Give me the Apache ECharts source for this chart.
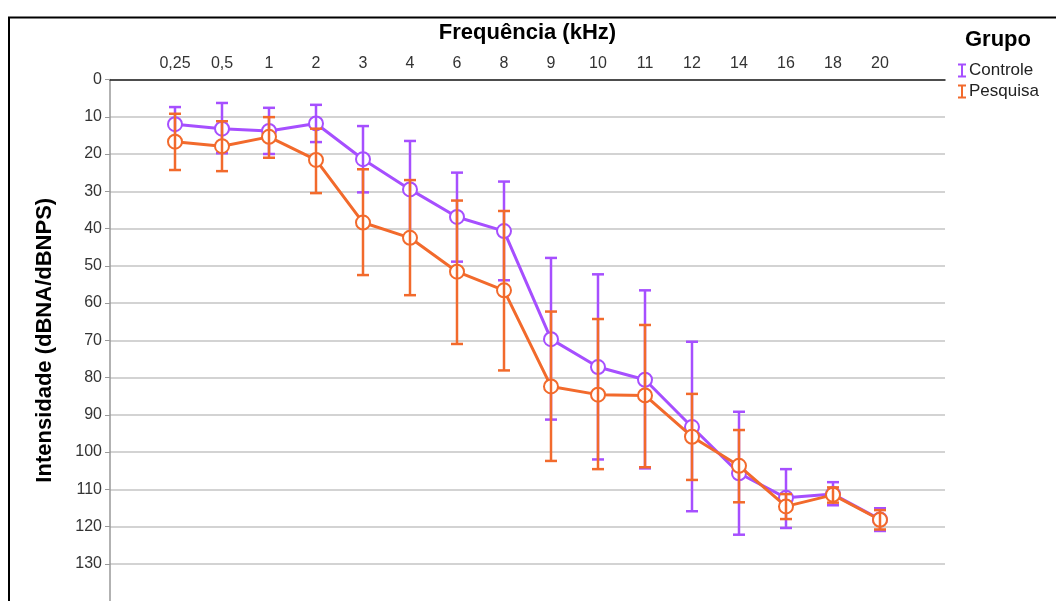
<!DOCTYPE html>
<html>
<head>
<meta charset="utf-8">
<script src="https://cdn.jsdelivr.net/npm/echarts@6/dist/echarts.min.js"></script>
<style>html,body{margin:0;padding:0;background:#fff;}#c{width:1056px;height:601px;}</style>
</head>
<body>
<div id="c"></div>
<script>
const freqLabels = ['0,25','0,5','1','2','3','4','6','8','9','10','11','12','14','16','18','20'];
const yTicks = [0,10,20,30,40,50,60,70,80,90,100,110,120,130];
const controleMean = [12.0, 13.2, 13.8, 11.8, 21.4, 29.5, 36.9, 40.7, 69.7, 77.2, 80.6, 93.3, 105.7, 112.3, 111.3, 118.1];
const controleLow  = [7.4, 6.3, 7.6, 6.8, 12.5, 16.5, 25.0, 27.4, 47.9, 52.3, 56.6, 70.4, 89.2, 104.6, 108.1, 115.1];
const controleHigh = [16.6, 19.8, 20.0, 16.8, 30.3, 42.5, 48.9, 53.9, 91.3, 102.0, 104.4, 115.9, 122.2, 120.4, 114.3, 121.2];
const pesquisaMean = [16.7, 17.9, 15.4, 21.6, 38.4, 42.5, 51.6, 56.6, 82.4, 84.6, 84.8, 95.9, 103.7, 114.6, 111.5, 118.2];
const pesquisaLow  = [9.2, 11.2, 10.1, 13.2, 24.1, 27.0, 32.5, 35.3, 62.3, 64.3, 65.9, 84.4, 94.1, 111.3, 109.5, 115.6];
const pesquisaHigh = [24.3, 24.6, 21.0, 30.5, 52.5, 57.9, 71.0, 78.1, 102.4, 104.6, 104.1, 107.5, 113.5, 118.0, 113.6, 120.8];

const PURPLE = '#a64fff';
const ORANGE = '#f26a2c';
const FONT = '"Liberation Sans", Arial, sans-serif';

function lineData(mean){ return mean.map((v,i)=>[i,v]); }
function errData(low, high){ return low.map((v,i)=>[i,v,high[i]]); }

function errRender(color){
  return function(params, api){
    const x = api.value(0);
    const p1 = api.coord([x, api.value(1)]);
    const p2 = api.coord([x, api.value(2)]);
    const hw = 6;
    const st = {stroke: color, lineWidth: 2.5, fill: null};
    return {type:'group', children:[
      {type:'line', shape:{x1:p1[0], y1:p1[1], x2:p2[0], y2:p2[1]}, style:st},
      {type:'line', shape:{x1:p1[0]-hw, y1:p1[1], x2:p1[0]+hw, y2:p1[1]}, style:st},
      {type:'line', shape:{x1:p2[0]-hw, y1:p2[1], x2:p2[0]+hw, y2:p2[1]}, style:st}
    ]};
  };
}

const chart = echarts.init(document.getElementById('c'), null, {renderer:'canvas'});
const ibeam = 'path://M0,0H8V2H5V12H8V14H0V12H3V2H0Z';
chart.setOption({
  animation: false,
  backgroundColor: '#fff',
  textStyle: {fontFamily: FONT},
  grid: {left: 110, top: 79.5, width: 835, height: 523, containLabel: false},
  xAxis: {
    type: 'value', position: 'top', min: -1.383, max: 16.383,
    name: 'Frequência (kHz)', nameLocation: 'middle', nameGap: 36,
    nameTextStyle: {fontFamily: FONT, fontSize: 22, fontWeight: 'bold', color: '#000'},
    axisLine: {show: true, onZero: false, lineStyle: {color: '#222', width: 1.5}},
    axisTick: {show: false},
    splitLine: {show: false},
    axisLabel: {
      customValues: freqLabels.map((_,i)=>i),
      formatter: v => freqLabels[Math.round(v)],
      fontSize: 16, color: '#333', margin: 8, fontFamily: FONT
    }
  },
  yAxis: {
    type: 'value', inverse: true, min: 0, max: 140, interval: 10,
    name: 'Intensidade (dBNA/dBNPS)', nameLocation: 'middle', nameGap: 54,
    nameTextStyle: {fontFamily: FONT, fontSize: 22, fontWeight: 'bold', color: '#000'},
    axisLine: {show: true, onZero: false, lineStyle: {color: '#999', width: 1.5}},
    axisTick: {show: true, length: 5, customValues: yTicks, lineStyle: {color: '#999', width: 1}},
    splitLine: {show: true, lineStyle: {color: '#c4c4c4', width: 1.5}},
    axisLabel: {
      customValues: yTicks,
      formatter: v => String(v),
      fontSize: 16, color: '#333', margin: 8, fontFamily: FONT
    }
  },
  legend: {
    orient: 'vertical', left: 953, top: 57, itemGap: 4,
    itemWidth: 8, itemHeight: 14,
    textStyle: {fontSize: 17, color: '#222', fontFamily: FONT, padding: [0,0,0,-2]},
    data: [
      {name: 'Controle', icon: ibeam, itemStyle: {color: PURPLE}},
      {name: 'Pesquisa', icon: ibeam, itemStyle: {color: ORANGE}}
    ]
  },
  graphic: [
    {type: 'polyline', shape: {points: [[9, 610], [9, 17.5], [1060, 17.5]]}, style: {stroke: '#000', lineWidth: 2, fill: null}, z: 100},
    {type: 'text', left: 965, top: 29, style: {text: 'Grupo', font: 'bold 22px ' + FONT, fill: '#000'}}
  ],
  series: [
    {name: 'Controle', type: 'line', data: lineData(controleMean), z: 2,
     symbol: 'emptyCircle', symbolSize: 14, lineStyle: {color: PURPLE, width: 3},
     itemStyle: {color: PURPLE, borderWidth: 2.5}, showAllSymbol: true},
    {name: 'Controle err', type: 'custom', data: errData(controleLow, controleHigh), z: 3,
     renderItem: errRender(PURPLE), encode: {x: 0, y: [1,2]}},
    {name: 'Pesquisa', type: 'line', data: lineData(pesquisaMean), z: 4,
     symbol: 'emptyCircle', symbolSize: 14, lineStyle: {color: ORANGE, width: 3},
     itemStyle: {color: ORANGE, borderWidth: 2.5}, showAllSymbol: true},
    {name: 'Pesquisa err', type: 'custom', data: errData(pesquisaLow, pesquisaHigh), z: 5,
     renderItem: errRender(ORANGE), encode: {x: 0, y: [1,2]}}
  ]
});
</script>
</body>
</html>
